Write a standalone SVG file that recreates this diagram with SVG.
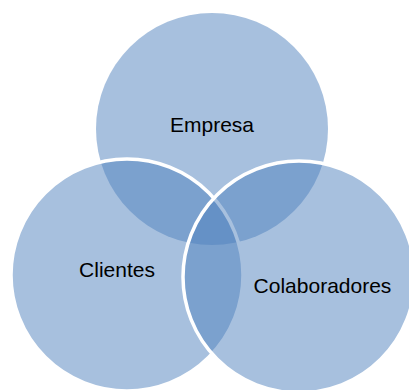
<svg xmlns="http://www.w3.org/2000/svg" width="409" height="390" viewBox="0 0 409 390">
  <style>
    .set { fill: #4F81BD; fill-opacity: 0.5; }
    .ring { stroke: #FFFFFF; stroke-width: 3.5; }
    .label { font-family: "Liberation Sans", Arial, sans-serif; font-size: 21px; fill: #000000; text-anchor: middle; }
  </style>
  <rect width="409" height="390" fill="#FFFFFF"/>
  <g id="empresa">
    <circle class="set" cx="212" cy="129" r="116"/>
    <text class="label" x="212" y="132">Empresa</text>
  </g>
  <g id="clientes">
    <circle class="set ring" cx="127" cy="275" r="116"/>
    <text class="label" x="117" y="277">Clientes</text>
  </g>
  <g id="colaboradores">
    <circle class="set ring" cx="299" cy="277" r="116"/>
    <text class="label" x="322.5" y="293">Colaboradores</text>
  </g>
  <g id="connectors"/>
</svg>
